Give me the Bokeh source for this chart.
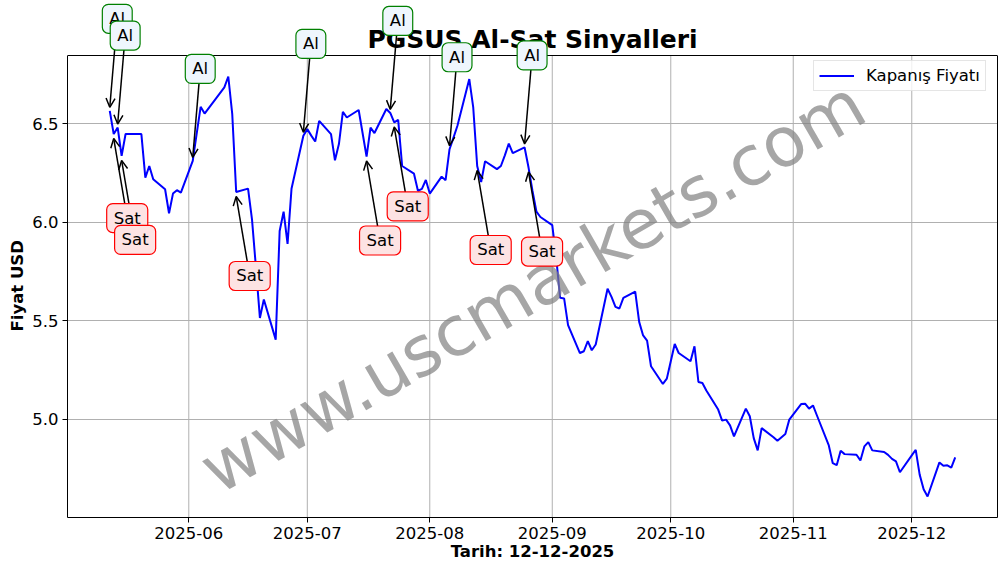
import numpy as np
import pandas as pd
from bokeh.plotting import figure
from bokeh.models import (Range1d, FixedTicker, DatetimeTickFormatter, NumeralTickFormatter,
                          Label, Arrow, OpenHead, Span, LinearAxis, Title)
from bokeh.embed import file_html
from bokeh.resources import INLINE

# ---------------- data ----------------
dates = [
    "2025-05-12", "2025-05-13", "2025-05-14", "2025-05-15", "2025-05-16", "2025-05-20",
    "2025-05-21", "2025-05-22", "2025-05-23", "2025-05-26", "2025-05-27", "2025-05-28",
    "2025-05-29", "2025-05-30", "2025-06-02", "2025-06-03", "2025-06-04", "2025-06-05",
    "2025-06-10", "2025-06-11", "2025-06-12", "2025-06-13", "2025-06-16", "2025-06-17",
    "2025-06-18", "2025-06-19", "2025-06-20", "2025-06-23", "2025-06-24", "2025-06-25",
    "2025-06-26", "2025-06-27", "2025-06-30", "2025-07-01", "2025-07-02", "2025-07-03",
    "2025-07-04", "2025-07-07", "2025-07-08", "2025-07-09", "2025-07-10", "2025-07-11",
    "2025-07-14", "2025-07-16", "2025-07-17", "2025-07-18", "2025-07-21", "2025-07-22",
    "2025-07-23", "2025-07-24", "2025-07-25", "2025-07-28", "2025-07-29", "2025-07-30",
    "2025-07-31", "2025-08-01", "2025-08-04", "2025-08-05", "2025-08-06", "2025-08-07",
    "2025-08-08", "2025-08-11", "2025-08-12", "2025-08-13", "2025-08-14", "2025-08-15",
    "2025-08-18", "2025-08-19", "2025-08-20", "2025-08-21", "2025-08-22", "2025-08-25",
    "2025-08-26", "2025-08-27", "2025-08-28", "2025-08-29", "2025-09-01", "2025-09-02",
    "2025-09-03", "2025-09-04", "2025-09-05", "2025-09-08", "2025-09-09", "2025-09-10",
    "2025-09-11", "2025-09-12", "2025-09-15", "2025-09-16", "2025-09-17", "2025-09-18",
    "2025-09-19", "2025-09-22", "2025-09-23", "2025-09-24", "2025-09-25", "2025-09-26",
    "2025-09-29", "2025-09-30", "2025-10-01", "2025-10-02", "2025-10-03", "2025-10-06",
    "2025-10-07", "2025-10-08", "2025-10-09", "2025-10-10", "2025-10-13", "2025-10-14",
    "2025-10-15", "2025-10-16", "2025-10-17", "2025-10-20", "2025-10-21", "2025-10-22",
    "2025-10-23", "2025-10-24", "2025-10-27", "2025-10-28", "2025-10-30", "2025-10-31",
    "2025-11-03", "2025-11-04", "2025-11-05", "2025-11-06", "2025-11-07", "2025-11-10",
    "2025-11-11", "2025-11-12", "2025-11-13", "2025-11-14", "2025-11-17", "2025-11-18",
    "2025-11-19", "2025-11-20", "2025-11-21", "2025-11-24", "2025-11-25", "2025-11-26",
    "2025-11-27", "2025-11-28", "2025-12-01", "2025-12-02", "2025-12-03", "2025-12-04",
    "2025-12-05", "2025-12-08", "2025-12-09", "2025-12-10", "2025-12-11", "2025-12-12",
]
prices = [
    6.566, 6.448, 6.481, 6.337, 6.448, 6.448,
    6.227, 6.286, 6.219, 6.168, 6.046, 6.146,
    6.163, 6.151, 6.312, 6.450, 6.586, 6.552,
    6.685, 6.740, 6.549, 6.154, 6.171, 6.015,
    5.770, 5.515, 5.609, 5.405, 5.956, 6.054,
    5.891, 6.170, 6.439, 6.473, 6.440, 6.410,
    6.515, 6.448, 6.315, 6.397, 6.561, 6.532,
    6.570, 6.334, 6.481, 6.453, 6.575, 6.555,
    6.507, 6.520, 6.286, 6.247, 6.160, 6.170,
    6.215, 6.146, 6.232, 6.214, 6.371, 6.430,
    6.490, 6.727, 6.583, 6.286, 6.205, 6.310,
    6.270, 6.286, 6.340, 6.400, 6.351, 6.380,
    6.278, 6.159, 6.054, 6.027, 5.986, 5.820,
    5.617, 5.614, 5.478, 5.337, 5.346, 5.397,
    5.351, 5.380, 5.663, 5.622, 5.571, 5.563,
    5.617, 5.648, 5.495, 5.426, 5.400, 5.270,
    5.180, 5.207, 5.295, 5.383, 5.337, 5.295,
    5.371, 5.190, 5.185, 5.147, 5.050, 4.994,
    4.999, 4.970, 4.914, 5.055, 5.016, 4.905,
    4.843, 4.956, 4.910, 4.892, 4.926, 4.999,
    5.078, 5.080, 5.055, 5.071, 5.020, 4.868,
    4.778, 4.768, 4.841, 4.824, 4.821, 4.792,
    4.863, 4.885, 4.843, 4.835, 4.820, 4.800,
    4.787, 4.732, 4.818, 4.846, 4.720, 4.646,
    4.609, 4.782, 4.765, 4.767, 4.756, 4.807,
]
buy_dates = ["2025-05-12", "2025-05-14", "2025-06-02", "2025-06-30", "2025-07-22", "2025-08-06", "2025-08-25"]
sell_dates = ["2025-05-13", "2025-05-15", "2025-06-13", "2025-07-16", "2025-07-23", "2025-08-13", "2025-08-26"]
tick_months = ["2025-06-01", "2025-07-01", "2025-08-01", "2025-09-01", "2025-10-01", "2025-11-01", "2025-12-01"]
y_ticks = [5.0, 5.5, 6.0, 6.5]
title_text = "PGSUS Al-Sat Sinyalleri"
x_label = "Tarih: 12-12-2025"
y_label = "Fiyat USD"
legend_text = "Kapanış Fiyatı"
buy_text = "Al"
sell_text = "Sat"
watermark = "www.uscmarkets.com"

# ---------------- setup ----------------
FONT = "DejaVu Sans"
FW = 930          # frame width
AX_TOP = 55       # top of the axes box, measured from the canvas top
AX_H = 462        # height of the axes box
FH = AX_TOP + AX_H  # frame runs up to the canvas top so labels above the axes are not clipped

def ms(d):
    return pd.Timestamp(d).value / 1e6

xs = np.array([ms(d) for d in dates])
ys = np.array(prices)
xspan = xs.max() - xs.min()
yspan = ys.max() - ys.min()
x0, x1 = xs.min() - 0.05 * xspan, xs.max() + 0.05 * xspan
y0, y1 = ys.min() - 0.05 * yspan, ys.max() + 0.05 * yspan
px_x = FW / (x1 - x0)
px_y = AX_H / (y1 - y0)
y_top = y0 + FH / px_y

p = figure(x_axis_type="datetime", frame_width=FW, frame_height=FH,
           min_border_left=67, min_border_right=1, min_border_top=0, min_border_bottom=47,
           x_range=Range1d(x0, x1), y_range=Range1d(y0, y_top),
           output_backend="svg", toolbar_location=None)
p.background_fill_color = "white"
p.border_fill_color = "white"
p.outline_line_color = None

p.xaxis.ticker = FixedTicker(ticks=[ms(d) for d in tick_months])
fmt = "%Y-%m"
p.xaxis.formatter = DatetimeTickFormatter(years=fmt, months=fmt, days=fmt, hours=fmt, minutes=fmt,
                                          seconds=fmt, milliseconds=fmt, microseconds=fmt,
                                          hourmin=fmt, minsec=fmt)
p.yaxis.ticker = FixedTicker(ticks=y_ticks)
p.yaxis.formatter = NumeralTickFormatter(format="0.0")
p.yaxis.bounds = (y0, y1)

for ax in (p.xaxis[0], p.yaxis[0]):
    ax.major_label_text_font = FONT
    ax.major_label_text_font_size = "16.5px"
    ax.major_label_text_color = "black"
    ax.axis_label_text_font = FONT
    ax.axis_label_text_font_size = "16.5px"
    ax.axis_label_text_font_style = "bold"
    ax.axis_label_text_color = "black"
    ax.major_tick_out = 5
    ax.major_tick_in = 0
    ax.minor_tick_out = 0
    ax.minor_tick_in = 0
    ax.axis_line_color = "black"
    ax.major_tick_line_color = "black"
    ax.major_label_standoff = 4
p.xaxis.axis_label = x_label
p.xaxis.axis_label_standoff = 0

# right spine
r_ax = LinearAxis(bounds=(y0, y1), ticker=FixedTicker(ticks=[]), axis_line_color="black",
                  major_tick_out=0, major_tick_in=0, minor_tick_out=0, minor_tick_in=0)
p.add_layout(r_ax, "right")

# y-axis label as a left-side title, placed along the axes box
p.add_layout(Title(text=y_label, align="left", offset=186, standoff=6,
                   text_font=FONT, text_font_size="16.5px", text_font_style="bold",
                   text_color="black"), "left")

# grid
p.xgrid.visible = False
p.ygrid.grid_line_color = "#b0b0b0"
p.ygrid.grid_line_width = 1
gx = [ms(d) for d in tick_months]
p.segment(x0=gx, y0=[y0] * len(gx), x1=gx, y1=[y1] * len(gx), line_color="#b0b0b0", line_width=1)

p.line(xs, ys, line_color="blue", line_width=2, legend_label=legend_text)

# top spine
p.add_layout(Span(location=y1, dimension="width", line_color="black", line_width=1))

leg = p.legend[0]
leg.location = (746, 426)
leg.label_text_font = FONT
leg.label_text_font_size = "16.5px"
leg.label_text_color = "black"
leg.border_line_color = "#cccccc"
leg.border_line_width = 1
leg.background_fill_alpha = 0.8
leg.glyph_width = 35
leg.label_standoff = 12
leg.padding = 5
leg.margin = 0
leg.label_height = 17
leg.glyph_height = 17

# title (inside the extended frame)
p.add_layout(Label(x=(x0 + x1) / 2, y=y1 + 16 / px_y, text=title_text,
                   text_align="center", text_baseline="middle", text_font=FONT,
                   text_font_size="25px", text_font_style="bold", text_color="black"))

# watermark
p.add_layout(Label(x=(x0 + x1) / 2, y=(y0 + y1) / 2, text=watermark, angle=30, angle_units="deg",
                   text_align="center", text_baseline="middle", text_font=FONT,
                   text_font_size="69px", text_color="gray", text_alpha=0.7))

# signals
signals = [(d, "buy") for d in buy_dates] + [(d, "sell") for d in sell_dates]
signals.sort(key=lambda s: s[0])
arrows, labels = [], []
for d, kind in signals:
    t = ms(d)
    v = prices[dates.index(d)]
    if kind == "buy":
        bx, by, half, tipy = 7.5, 92.0, 14.0, 3.5
        txt, fill, edge = buy_text, "#eef6fd", "green"
        sy_edge = by - half
    else:
        bx, by, half, tipy = 13.5, -84.0, 14.0, -4.5
        txt, fill, edge = sell_text, "#fde3e3", "red"
        sy_edge = by + half
    frac = (by - sy_edge) / (by - tipy)
    sx_start = bx - bx * frac
    arrows.append(Arrow(x_start=t + sx_start / px_x, y_start=v + sy_edge / px_y,
                        x_end=t, y_end=v + tipy / px_y,
                        line_color="black", line_width=1.5,
                        end=OpenHead(size=9, line_width=1.5, line_color="black")))
    labels.append(Label(x=t, y=v, x_offset=bx, y_offset=by, text=txt,
                        text_align="center", text_baseline="middle",
                        text_font=FONT, text_font_size="16.5px", text_color="black",
                        background_fill_color=fill, background_fill_alpha=1,
                        border_line_color=edge, border_line_width=1.2,
                        padding=dict(left=7, right=7, top=5, bottom=5), border_radius=6))
for a in arrows:
    p.add_layout(a)
for l in labels:
    p.add_layout(l)

open("out.html", "w").write(file_html(p, INLINE))
